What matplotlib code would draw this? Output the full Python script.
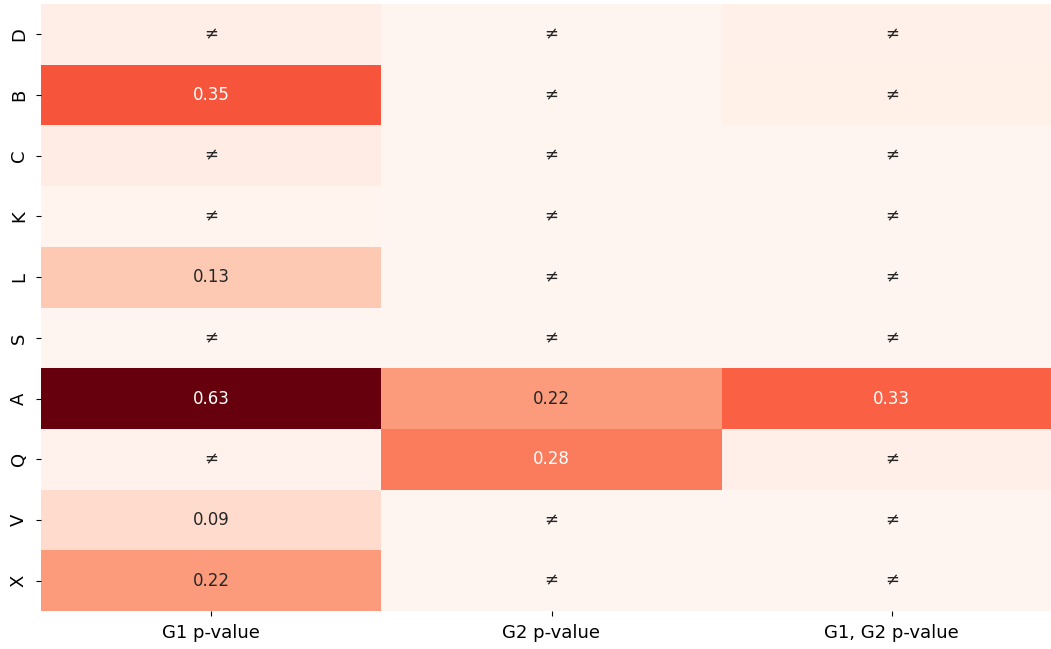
import numpy as np
import matplotlib
matplotlib.use("Agg")
import matplotlib.pyplot as plt
import seaborn as sns

rows = ["D", "B", "C", "K", "L", "S", "A", "Q", "V", "X"]
cols = ["G1 p-value", "G2 p-value", "G1, G2 p-value"]

g1_values = [0.025, 0.35, 0.03, 0.005, 0.13, 0.0, 0.63, 0.01, 0.09, 0.22]
g2_values = [0.0, 0.0, 0.0, 0.0, 0.0, 0.0, 0.22, 0.28, 0.0, 0.0]
g12_values = [0.015, 0.02, 0.0, 0.0, 0.0, 0.0, 0.33, 0.024, 0.0, 0.0]

g1_labels = ["≠", "0.35", "≠", "≠", "0.13", "≠", "0.63", "≠", "0.09", "0.22"]
g2_labels = ["≠", "≠", "≠", "≠", "≠", "≠", "0.22", "0.28", "≠", "≠"]
g12_labels = ["≠", "≠", "≠", "≠", "≠", "≠", "0.33", "≠", "≠", "≠"]

data = np.array([g1_values, g2_values, g12_values]).T
labels = np.array([g1_labels, g2_labels, g12_labels]).T

W, H = 1051, 649
fig = plt.figure(figsize=(W / 100, H / 100), dpi=100)
ax = fig.add_axes([41 / W, 1 - 611 / H, (1062 - 41) / W, (611 - 4) / H])
sns.heatmap(data, annot=labels, fmt="", cmap="Reds", vmin=0, vmax=0.63,
            cbar=False, ax=ax, annot_kws={"fontsize": 12},
            xticklabels=cols, yticklabels=rows)
ax.tick_params(axis="both", labelsize=13, pad=6)
plt.setp(ax.get_yticklabels(), rotation=90, va="center")
plt.setp(ax.get_xticklabels(), rotation=0)
fig.savefig("out.png", dpi=100)
